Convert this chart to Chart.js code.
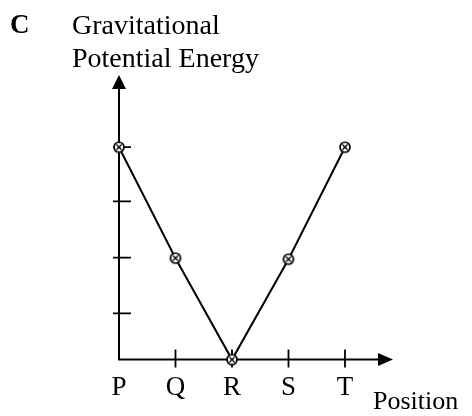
<!DOCTYPE html>
<html>
<head>
<meta charset="utf-8">
<script src="https://cdn.jsdelivr.net/npm/chart.js@4"></script>
<style>
    body { margin: 0; background: #fff; }
    #wrap { position: relative; width: 472px; height: 416px; }
    .lbl { position: absolute; font-family: "Liberation Serif", "Times New Roman", serif; line-height: 1; color: #000; white-space: nowrap; }
</style>
</head>
<body>
<div id="wrap">
    <canvas id="myChart" width="472" height="416"></canvas>
    <div class="lbl" style="left: 10px; top: 11px; font-size: 27px; font-weight: bold;">C</div>
    <div class="lbl" style="left: 72px; top: 11px; font-size: 28px;">Gravitational</div>
    <div class="lbl" style="left: 72px; top: 44px; font-size: 28px;">Potential Energy</div>
    <div class="lbl" style="left: 373px; top: 388px; font-size: 26px;">Position</div>
</div>
<script>
// positions along the track and their energy levels
const positions = ['P', 'Q', 'R', 'S', 'T'];
const positionX = [0, 1, 2, 3, 4];
const energy = [4, 1.91, 0, 1.89, 4];
const energyTicks = [0.87, 1.92, 2.98, 4];
const positionTicks = [1, 2, 3, 4];

// circle with a cross in it, used as the marker
function makeMarker() {
    const c = document.createElement('canvas');
    c.width = 14;
    c.height = 14;
    const g = c.getContext('2d');
    g.fillStyle = '#fff';
    g.strokeStyle = '#000';
    g.lineWidth = 1.7;
    g.beginPath();
    g.arc(7, 7, 5, 0, Math.PI * 2);
    g.fill();
    g.stroke();
    g.lineWidth = 1.4;
    g.beginPath();
    g.moveTo(4.5, 4.5); g.lineTo(9.5, 9.5);
    g.moveTo(9.5, 4.5); g.lineTo(4.5, 9.5);
    g.stroke();
    return c;
}

const axesPlugin = {
    id: 'axes',
    beforeDatasetsDraw(chart) {
        const ctx = chart.ctx;
        const x = chart.scales.x;
        const y = chart.scales.y;
        const x0 = x.getPixelForValue(0);
        const y0 = y.getPixelForValue(0);
        const xEnd = x.getPixelForValue(x.max);
        const yEnd = y.getPixelForValue(y.max);

        ctx.save();
        ctx.strokeStyle = '#000';
        ctx.fillStyle = '#000';
        ctx.lineWidth = 2;

        ctx.beginPath();
        ctx.moveTo(x0, yEnd + 10);
        ctx.lineTo(x0, y0);
        ctx.lineTo(xEnd - 10, y0);
        ctx.stroke();

        // arrow heads
        ctx.beginPath();
        ctx.moveTo(xEnd, y0);
        ctx.lineTo(xEnd - 15, y0 - 6.5);
        ctx.lineTo(xEnd - 15, y0 + 6.5);
        ctx.closePath();
        ctx.fill();
        ctx.beginPath();
        ctx.moveTo(x0, yEnd);
        ctx.lineTo(x0 - 7, yEnd + 14);
        ctx.lineTo(x0 + 7, yEnd + 14);
        ctx.closePath();
        ctx.fill();

        // tick marks crossing the axes
        ctx.lineWidth = 1.8;
        ctx.beginPath();
        for (const v of energyTicks) {
            const py = y.getPixelForValue(v);
            ctx.moveTo(x0 - 6, py);
            ctx.lineTo(x0 + 12, py);
        }
        for (const v of positionTicks) {
            const px = x.getPixelForValue(v);
            ctx.moveTo(px, y0 - 10);
            ctx.lineTo(px, y0 + 8);
        }
        ctx.stroke();
        ctx.restore();
    }
};

const ctx = document.getElementById('myChart').getContext('2d');
const myChart = new Chart(ctx, {
    type: 'line',
    data: {
        datasets: [{
            data: positionX.map((v, i) => ({ x: v, y: energy[i] })),
            borderColor: '#000',
            borderWidth: 2,
            pointStyle: makeMarker(),
            tension: 0,
            fill: false,
            clip: false
        }]
    },
    options: {
        responsive: false,
        animation: false,
        layout: {
            padding: { left: 119, right: 79, top: 75, bottom: 0 }
        },
        plugins: {
            legend: { display: false },
            tooltip: { enabled: false }
        },
        scales: {
            x: {
                type: 'linear',
                min: 0,
                max: 4.85,
                afterBuildTicks: (scale) => {
                    scale.ticks = positionX.map((v) => ({ value: v }));
                },
                ticks: {
                    autoSkip: false,
                    maxRotation: 0,
                    padding: 12,
                    color: '#000',
                    font: { family: '"Liberation Serif", serif', size: 27 },
                    callback: (v) => positions[positionX.indexOf(v)]
                },
                grid: { display: false, drawTicks: false },
                border: { display: false }
            },
            y: {
                display: false,
                min: 0,
                max: 5.36
            }
        }
    },
    plugins: [axesPlugin]
});
</script>
</body>
</html>
